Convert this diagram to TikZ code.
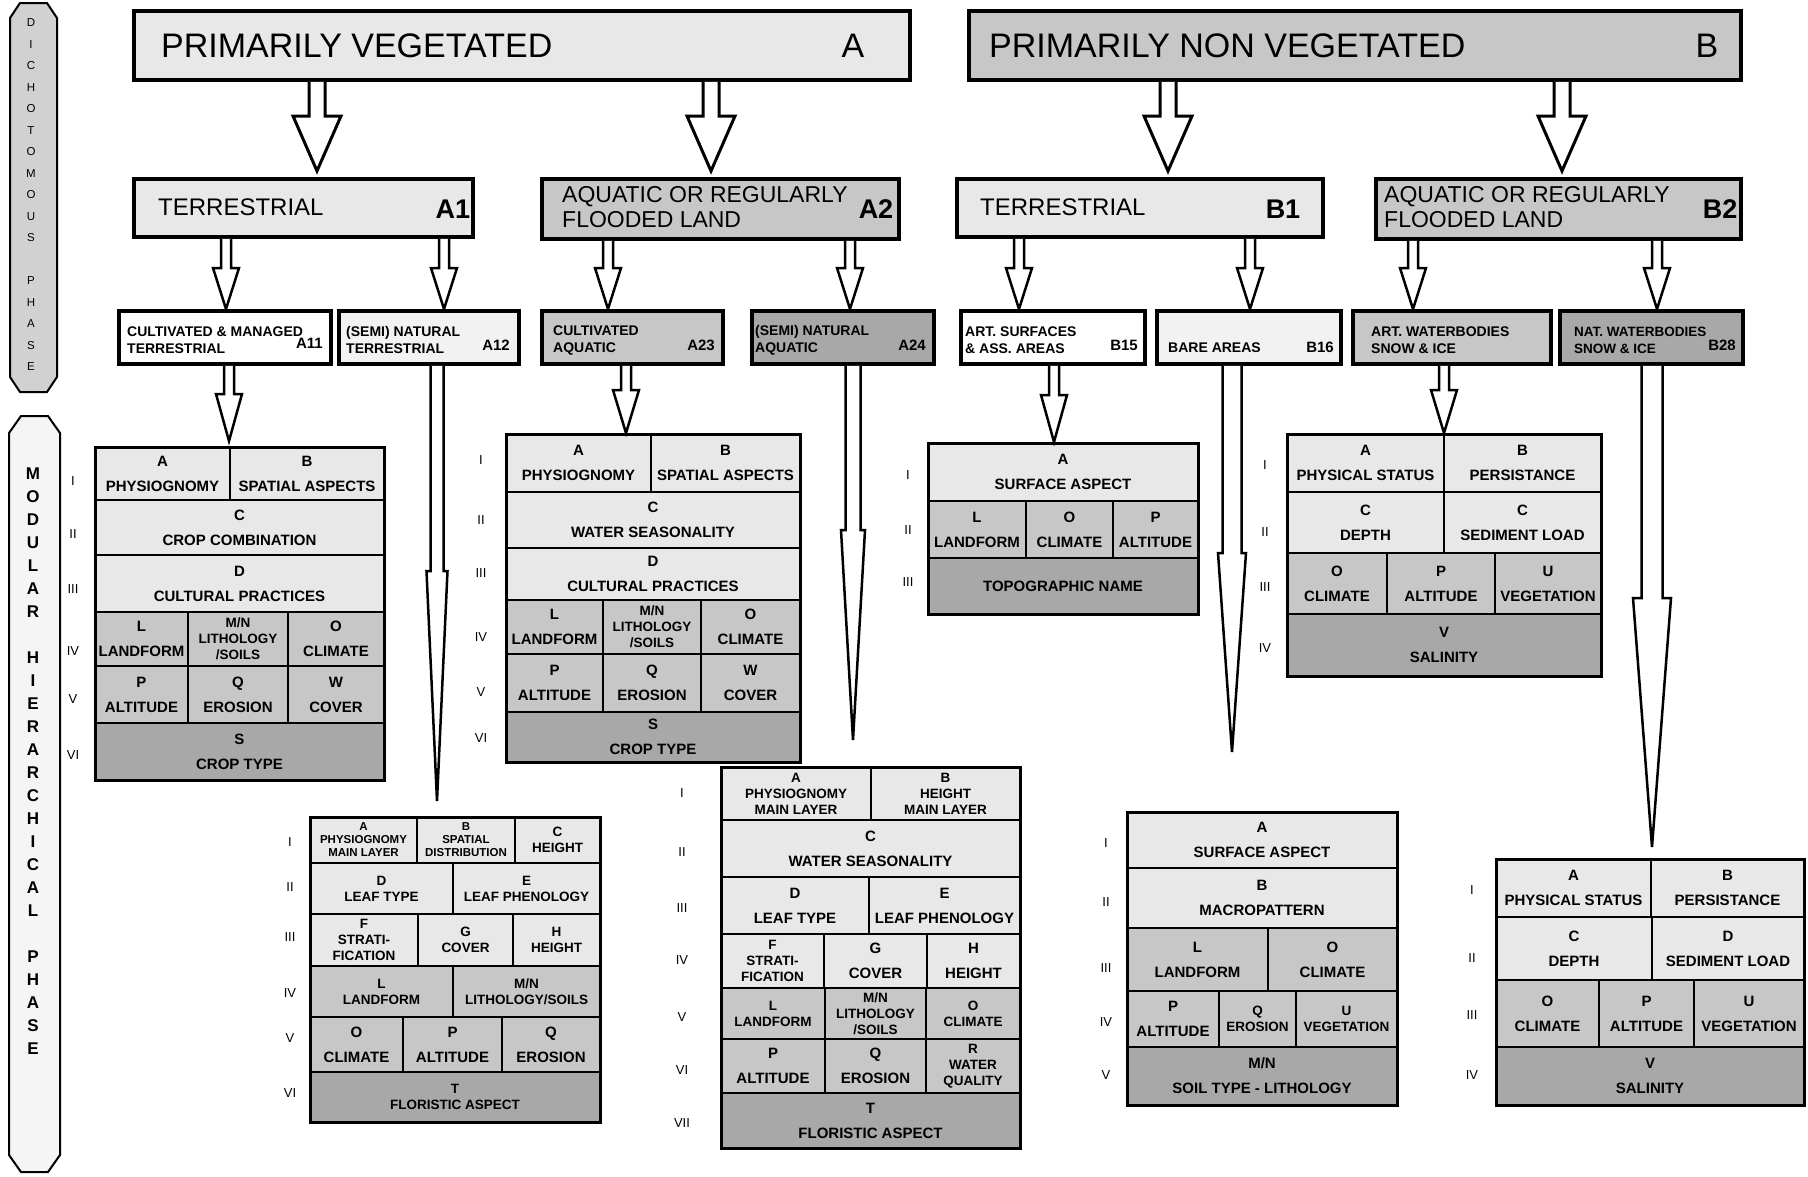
\documentclass[tikz,border=0pt]{standalone}
\usepackage{fontspec}
\setmainfont{Liberation Sans}
\usetikzlibrary{calc}
\definecolor{cLt}{gray}{0.91}
\definecolor{cLtr}{gray}{0.95}
\definecolor{cMd}{gray}{0.78}
\definecolor{cDk}{gray}{0.66}
\tikzset{
  boxst/.style={draw, line width=3.5pt, anchor=north west, inner sep=0pt, outer sep=0pt},
  cellst/.style={draw, line width=2pt, anchor=north west, inner sep=1pt, outer sep=0pt, align=center,
    font={\bfseries\fontsize{15}{25}\selectfont}},
  tight/.style={font={\bfseries\fontsize{13.5}{16}\selectfont}},
  small/.style={font={\bfseries\fontsize{11.5}{13}\selectfont}},
  numst/.style={font={\fontsize{13}{13}\selectfont}, inner sep=0pt},
  ttl/.style={anchor=west, inner sep=0pt, font={\fontsize{34}{40}\selectfont}},
  sub/.style={anchor=west, inner sep=0pt, align=left, font={\fontsize{24}{26}\selectfont}},
  subcode/.style={inner sep=0pt, font={\bfseries\fontsize{27}{30}\selectfont}},
  thr/.style={anchor=west, inner sep=0pt, align=left, font={\bfseries\fontsize{14}{17}\selectfont}},
  thrcode/.style={anchor=east, inner sep=0pt, font={\bfseries\fontsize{15}{17}\selectfont}},
  frame/.style={line width=3pt}
}
\newcommand\bx[6]{\node[boxst,fill=#6,minimum width=#4pt-#2pt,minimum height=#5pt-#3pt] (#1) at (#2,#3) {};}
\newcommand\cell[7]{\node[cellst,fill=#6,minimum width=#4pt-#2pt,minimum height=#5pt-#3pt] (#1) at (#2,#3) {#7};}
% #1 from, #2 to, #3 x, #4 shaft half, #5 head half, #6 head length, #7 gap, #8 line width
\newcommand\barrow[8]{%
  \draw[line width=#8pt, fill=white, line join=miter] let \p1=(#1.south), \p2=(#2.north) in
   (#3pt-#4pt,\y1-1.8pt) -- (#3pt-#4pt,\y2+#7pt+#6pt) -- (#3pt-#5pt,\y2+#7pt+#6pt) -- (#3pt,\y2+#7pt)
   -- (#3pt+#5pt,\y2+#7pt+#6pt) -- (#3pt+#4pt,\y2+#7pt+#6pt) -- (#3pt+#4pt,\y1-1.8pt);}
\begin{document}
\begin{tikzpicture}[x=1pt,y=-1pt]
\fill[white] (0,0) rectangle (1808,1176);
\useasboundingbox (0,0) rectangle (1808,1176);

% side columns
\draw[line width=2pt, fill=black!18] (10,18) -- (20,3) -- (47,3) -- (57,18) -- (57,377) -- (47,392) -- (20,392) -- (10,377) -- cycle;
\node[align=center, inner sep=0pt, font={\fontsize{11.5}{21.5}\selectfont}] (dich) at (31,195)
  {D\\I\\C\\H\\O\\T\\O\\M\\O\\U\\S\\[21.5pt]P\\H\\A\\S\\E};
\draw[line width=2pt, fill=black!4] (9,433) -- (21,416) -- (48,416) -- (60,433) -- (60,1155) -- (48,1172) -- (21,1172) -- (9,1155) -- cycle;
\node[align=center, inner sep=0pt, font={\bfseries\fontsize{17}{23}\selectfont}] (modu) at (33,761)
  {M\\O\\D\\U\\L\\A\\R\\[23pt]H\\I\\E\\R\\A\\R\\C\\H\\I\\C\\A\\L\\[23pt]P\\H\\A\\S\\E};

% top boxes
\bx{A}{134}{11}{910}{80}{cLt}
\bx{B}{969}{11}{1741}{80}{cMd}
\node[ttl] (tA) at (161,46) {PRIMARILY VEGETATED};
\node[ttl, anchor=center] (cA) at (853,46) {A};
\node[ttl] (tB) at (989,46) {PRIMARILY NON VEGETATED};
\node[ttl, anchor=center] (cB) at (1707,46) {B};

% second row
\bx{A1}{134}{179}{473}{237}{cLt}
\bx{A2}{542}{179}{899}{239}{cMd}
\bx{B1}{957}{179}{1323}{237}{cLt}
\bx{B2}{1376}{179}{1741}{239}{cMd}
\node[sub] (tA1) at (158,207) {TERRESTRIAL};
\node[subcode] (cA1) at (453,209) {A1};
\node[sub, font={\fontsize{23}{25}\selectfont}] (tA2) at (562,207) {AQUATIC OR REGULARLY\\FLOODED LAND};
\node[subcode] (cA2) at (876,209) {A2};
\node[sub] (tB1) at (980,207) {TERRESTRIAL};
\node[subcode] (cB1) at (1283,209) {B1};
\node[sub, font={\fontsize{23}{25}\selectfont}] (tB2) at (1384,207) {AQUATIC OR REGULARLY\\FLOODED LAND};
\node[subcode] (cB2) at (1720,209) {B2};

% third row
\bx{A11}{119}{311}{331}{364}{white}
\bx{A12}{339}{311}{519}{364}{cLtr}
\bx{A23}{542}{311}{723}{364}{cMd}
\bx{A24}{752}{311}{934}{364}{cDk}
\bx{B15}{961}{311}{1145}{364}{white}
\bx{B16}{1157}{311}{1341}{364}{cLtr}
\bx{B27}{1353}{311}{1551}{364}{cMd}
\bx{B28}{1560}{311}{1743}{364}{cDk}
\node[thr] (tA11) at (127,340) {CULTIVATED \& MANAGED\\TERRESTRIAL};
\node[thrcode] (cA11) at (323,343) {A11};
\node[thr] (tA12) at (346,340) {(SEMI) NATURAL\\TERRESTRIAL};
\node[thrcode] (cA12) at (510,345) {A12};
\node[thr] (tA23) at (553,340) {CULTIVATED\\AQUATIC};
\node[thrcode] (cA23) at (715,345) {A23};
\node[thr] (tA24) at (755,340) {(SEMI) NATURAL\\AQUATIC};
\node[thrcode] (cA24) at (926,345) {A24};
\node[thr] (tB15) at (965,340) {ART. SURFACES\\\& ASS. AREAS};
\node[thrcode] (cB15) at (1138,345) {B15};
\node[thr] (tB16) at (1168,348) {BARE AREAS};
\node[thrcode] (cB16) at (1334,347) {B16};
\node[thr] (tB27) at (1371,340) {ART. WATERBODIES\\SNOW \& ICE};
\node[thr, font={\bfseries\fontsize{13.5}{17}\selectfont}] (tB28) at (1574,340) {NAT. WATERBODIES\\SNOW \& ICE};
\node[thrcode] (cB28) at (1736,345) {B28};

% ---- table A11
\cell{pa}{95}{447}{230}{500}{cLt}{A\\PHYSIOGNOMY}
\cell{pb}{230}{447}{384}{500}{cLt}{B\\SPATIAL ASPECTS}
\cell{pc}{95}{500}{384}{555}{cLt}{C\\CROP COMBINATION}
\cell{pd}{95}{555}{384}{612}{cLt}{D\\CULTURAL PRACTICES}
\cell{pl}{95}{612}{188}{666}{cMd}{L\\LANDFORM}
\cell{pm}{188}{612}{288}{666}{cMd,tight}{M/N\\LITHOLOGY\\/SOILS}
\cell{po}{288}{612}{384}{666}{cMd}{O\\CLIMATE}
\cell{pp}{95}{666}{188}{723}{cMd}{P\\ALTITUDE}
\cell{pq}{188}{666}{288}{723}{cMd}{Q\\EROSION}
\cell{pw}{288}{666}{384}{723}{cMd}{W\\COVER}
\cell{ps}{95}{723}{384}{780}{cDk}{S\\CROP TYPE}
\draw[frame] (pa.north west) rectangle (ps.south east);
\node[numst] (pn1) at (73,481) {I};
\node[numst] (pn2) at (73,534) {II};
\node[numst] (pn3) at (73,589) {III};
\node[numst] (pn4) at (73,651) {IV};
\node[numst] (pn5) at (73,699) {V};
\node[numst] (pn6) at (73,755) {VI};

% ---- table A23
\cell{qa}{506}{434}{651}{492}{cLt}{A\\PHYSIOGNOMY}
\cell{qb}{651}{434}{800}{492}{cLt}{B\\SPATIAL ASPECTS}
\cell{qc}{506}{492}{800}{548}{cLt}{C\\WATER SEASONALITY}
\cell{qd}{506}{548}{800}{600}{cLt}{D\\CULTURAL PRACTICES}
\cell{ql}{506}{600}{603}{654}{cMd}{L\\LANDFORM}
\cell{qm}{603}{600}{701}{654}{cMd,tight}{M/N\\LITHOLOGY\\/SOILS}
\cell{qo}{701}{600}{800}{654}{cMd}{O\\CLIMATE}
\cell{qp}{506}{654}{603}{712}{cMd}{P\\ALTITUDE}
\cell{qq}{603}{654}{701}{712}{cMd}{Q\\EROSION}
\cell{qw}{701}{654}{800}{712}{cMd}{W\\COVER}
\cell{qs}{506}{712}{800}{762}{cDk}{S\\CROP TYPE}
\draw[frame] (qa.north west) rectangle (qs.south east);
\node[numst] (qn1) at (481,460) {I};
\node[numst] (qn2) at (481,520) {II};
\node[numst] (qn3) at (481,573) {III};
\node[numst] (qn4) at (481,637) {IV};
\node[numst] (qn5) at (481,692) {V};
\node[numst] (qn6) at (481,738) {VI};

% ---- table A12
\cell{ra}{310}{817}{417}{863}{cLt,small}{A\\PHYSIOGNOMY\\MAIN LAYER}
\cell{rb}{417}{817}{515}{863}{cLt,small}{B\\SPATIAL\\DISTRIBUTION}
\cell{rc}{515}{817}{600}{863}{cLt,tight}{C\\HEIGHT}
\cell{rd}{310}{863}{453}{914}{cLt,tight}{D\\LEAF TYPE}
\cell{re}{453}{863}{600}{914}{cLt,tight}{E\\LEAF PHENOLOGY}
\cell{rf}{310}{914}{418}{966}{cLt,tight}{F\\STRATI-\\FICATION}
\cell{rg}{418}{914}{513}{966}{cLt,tight}{G\\COVER}
\cell{rh}{513}{914}{600}{966}{cLt,tight}{H\\HEIGHT}
\cell{rl}{310}{966}{453}{1017}{cMd,tight}{L\\LANDFORM}
\cell{rm}{453}{966}{600}{1017}{cMd,tight}{M/N\\LITHOLOGY/SOILS}
\cell{ro}{310}{1017}{403}{1072}{cMd}{O\\CLIMATE}
\cell{rp}{403}{1017}{502}{1072}{cMd}{P\\ALTITUDE}
\cell{rq}{502}{1017}{600}{1072}{cMd}{Q\\EROSION}
\cell{rt}{310}{1072}{600}{1122}{cDk,tight}{T\\FLORISTIC ASPECT}
\draw[frame] (ra.north west) rectangle (rt.south east);
\node[numst] (rn1) at (290,842) {I};
\node[numst] (rn2) at (290,887) {II};
\node[numst] (rn3) at (290,937) {III};
\node[numst] (rn4) at (290,993) {IV};
\node[numst] (rn5) at (290,1038) {V};
\node[numst] (rn6) at (290,1093) {VI};

% ---- table A24
\cell{sa}{721}{767}{871}{820}{cLt,tight}{A\\PHYSIOGNOMY\\MAIN LAYER}
\cell{sb}{871}{767}{1020}{820}{cLt,tight}{B\\HEIGHT\\MAIN LAYER}
\cell{sc}{721}{820}{1020}{877}{cLt}{C\\WATER SEASONALITY}
\cell{sd}{721}{877}{869}{934}{cLt}{D\\LEAF TYPE}
\cell{se}{869}{877}{1020}{934}{cLt}{E\\LEAF PHENOLOGY}
\cell{sf}{721}{934}{824}{988}{cLt,tight}{F\\STRATI-\\FICATION}
\cell{sg}{824}{934}{927}{988}{cLt}{G\\COVER}
\cell{sh}{927}{934}{1020}{988}{cLt}{H\\HEIGHT}
\cell{sl}{721}{988}{825}{1039}{cMd,tight}{L\\LANDFORM}
\cell{sm}{825}{988}{926}{1039}{cMd,tight}{M/N\\LITHOLOGY\\/SOILS}
\cell{so}{926}{988}{1020}{1039}{cMd,tight}{O\\CLIMATE}
\cell{sp}{721}{1039}{825}{1093}{cMd}{P\\ALTITUDE}
\cell{sq}{825}{1039}{926}{1093}{cMd}{Q\\EROSION}
\cell{sr}{926}{1039}{1020}{1093}{cMd,tight}{R\\WATER\\QUALITY}
\cell{st}{721}{1093}{1020}{1148}{cDk}{T\\FLORISTIC ASPECT}
\draw[frame] (sa.north west) rectangle (st.south east);
\node[numst] (sn1) at (682,793) {I};
\node[numst] (sn2) at (682,852) {II};
\node[numst] (sn3) at (682,908) {III};
\node[numst] (sn4) at (682,960) {IV};
\node[numst] (sn5) at (682,1017) {V};
\node[numst] (sn6) at (682,1070) {VI};
\node[numst] (sn7) at (682,1123) {VII};

% ---- table B15
\cell{ua}{928}{443}{1198}{501}{cLt}{A\\SURFACE ASPECT}
\cell{ul}{928}{501}{1026}{558}{cMd}{L\\LANDFORM}
\cell{uo}{1026}{501}{1113}{558}{cMd}{O\\CLIMATE}
\cell{up}{1113}{501}{1198}{558}{cMd}{P\\ALTITUDE}
\cell{ut}{928}{558}{1198}{614}{cDk}{TOPOGRAPHIC NAME}
\draw[frame] (ua.north west) rectangle (ut.south east);
\node[numst] (un1) at (908,475) {I};
\node[numst] (un2) at (908,530) {II};
\node[numst] (un3) at (908,582) {III};

% ---- table B27
\cell{va}{1287}{434}{1444}{492}{cLt}{A\\PHYSICAL STATUS}
\cell{vb}{1444}{434}{1601}{492}{cLt}{B\\PERSISTANCE}
\cell{vc}{1287}{492}{1444}{553}{cLt}{C\\DEPTH}
\cell{vd}{1444}{492}{1601}{553}{cLt}{C\\SEDIMENT LOAD}
\cell{vo}{1287}{553}{1387}{614}{cMd}{O\\CLIMATE}
\cell{vp}{1387}{553}{1495}{614}{cMd}{P\\ALTITUDE}
\cell{vu}{1495}{553}{1601}{614}{cMd}{U\\VEGETATION}
\cell{vv}{1287}{614}{1601}{676}{cDk}{V\\SALINITY}
\draw[frame] (va.north west) rectangle (vv.south east);
\node[numst] (vn1) at (1265,465) {I};
\node[numst] (vn2) at (1265,532) {II};
\node[numst] (vn3) at (1265,587) {III};
\node[numst] (vn4) at (1265,648) {IV};

% ---- table B16
\cell{wa}{1127}{812}{1397}{868}{cLt}{A\\SURFACE ASPECT}
\cell{wb}{1127}{868}{1397}{928}{cLt}{B\\MACROPATTERN}
\cell{wl}{1127}{928}{1268}{991}{cMd}{L\\LANDFORM}
\cell{wo}{1268}{928}{1397}{991}{cMd}{O\\CLIMATE}
\cell{wp}{1127}{991}{1219}{1047}{cMd}{P\\ALTITUDE}
\cell{wq}{1219}{991}{1296}{1047}{cMd,tight}{Q\\EROSION}
\cell{wu}{1296}{991}{1397}{1047}{cMd,tight}{U\\VEGETATION}
\cell{wm}{1127}{1047}{1397}{1105}{cDk}{M/N\\SOIL TYPE - LITHOLOGY}
\draw[frame] (wa.north west) rectangle (wm.south east);
\node[numst] (wn1) at (1106,843) {I};
\node[numst] (wn2) at (1106,902) {II};
\node[numst] (wn3) at (1106,968) {III};
\node[numst] (wn4) at (1106,1022) {IV};
\node[numst] (wn5) at (1106,1075) {V};

% ---- table B28
\cell{xa}{1496}{859}{1651}{917}{cLt}{A\\PHYSICAL STATUS}
\cell{xb}{1651}{859}{1804}{917}{cLt}{B\\PERSISTANCE}
\cell{xc}{1496}{917}{1652}{980}{cLt}{C\\DEPTH}
\cell{xd}{1652}{917}{1804}{980}{cLt}{D\\SEDIMENT LOAD}
\cell{xo}{1496}{980}{1599}{1047}{cMd}{O\\CLIMATE}
\cell{xp}{1599}{980}{1694}{1047}{cMd}{P\\ALTITUDE}
\cell{xu}{1694}{980}{1804}{1047}{cMd}{U\\VEGETATION}
\cell{xv}{1496}{1047}{1804}{1105}{cDk}{V\\SALINITY}
\draw[frame] (xa.north west) rectangle (xv.south east);
\node[numst] (xn1) at (1472,890) {I};
\node[numst] (xn2) at (1472,958) {II};
\node[numst] (xn3) at (1472,1015) {III};
\node[numst] (xn4) at (1472,1075) {IV};

% ---- arrows
\barrow{A}{A1}{317}{8}{24}{55}{8}{3}
\barrow{A}{A2}{711}{8}{24}{55}{8}{3}
\barrow{B}{B1}{1168}{8}{24}{55}{8}{3}
\barrow{B}{B2}{1562}{8}{24}{55}{8}{3}
\barrow{A1}{A11}{226}{5}{13}{41}{2}{2.5}
\barrow{A1}{A12}{444}{5}{13}{41}{2}{2.5}
\barrow{A2}{A23}{608}{5}{13}{41}{2}{2.5}
\barrow{A2}{A24}{850}{5}{13}{41}{2}{2.5}
\barrow{B1}{B15}{1019}{5}{13}{41}{2}{2.5}
\barrow{B1}{B16}{1250}{5}{13}{41}{2}{2.5}
\barrow{B2}{B27}{1413}{5}{13}{41}{2}{2.5}
\barrow{B2}{B28}{1657}{5}{13}{41}{2}{2.5}
\barrow{A11}{pa}{229}{5}{13}{47}{6}{2.5}
\barrow{A23}{qa}{626}{5}{13}{43}{1}{2.5}
\barrow{B15}{ua}{1054}{5}{13}{47}{1}{2.5}
\barrow{B27}{va}{1444}{5}{13}{43}{1}{2.5}
\barrow{A12}{ra}{437}{6.5}{10.5}{230}{16}{2.5}
\barrow{A24}{sa}{853}{7.5}{12}{210}{27}{2.5}
\barrow{B16}{wa}{1232}{9.5}{14}{199}{60}{2.5}
\barrow{B28}{xb}{1652}{10.5}{19}{249}{12}{2.5}
\end{tikzpicture}
\end{document}
